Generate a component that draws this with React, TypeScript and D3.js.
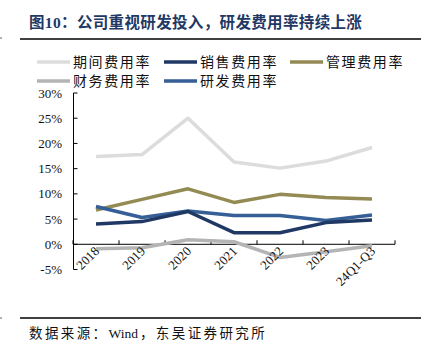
import * as d3 from 'd3';

const years = ['2018', '2019', '2020', '2021', '2022', '2023', '24Q1-Q3'];
const periodRate = [17.4, 17.8, 25.0, 16.3, 15.1, 16.5, 19.2];
const salesRate = [4.0, 4.5, 6.5, 2.3, 2.3, 4.3, 4.8];
const adminRate = [6.8, 8.9, 11.0, 8.3, 9.9, 9.3, 9.0];
const financeRate = [-0.9, -0.7, 0.9, 0.5, -2.6, -1.5, -0.3];
const rdRate = [7.5, 5.3, 6.6, 5.7, 5.7, 4.7, 5.8];
const yTicks = [-5, 0, 5, 10, 15, 20, 25, 30];

const series = [
  { name: '期间费用率', values: periodRate, color: '#dcdcdc' },
  { name: '销售费用率', values: salesRate, color: '#1f3864' },
  { name: '管理费用率', values: adminRate, color: '#948a54' },
  { name: '财务费用率', values: financeRate, color: '#b4b4b4' },
  { name: '研发费用率', values: rdRate, color: '#355f96' },
];

const cjk = '"Liberation Serif", "Noto Sans CJK SC", serif';

export default function App() {
  const x = d3.scaleBand().domain(years).range([73, 395]);
  const y = d3.scaleLinear().domain([-5, 30]).range([269.5, 93]);
  const line = d3
    .line<number>()
    .x((_, i) => x(years[i])! + x.bandwidth() / 2)
    .y((d) => y(d));

  // legend positions: two rows
  const legendPos = [
    [37, 62], [164, 62], [290, 62],
    [37, 81], [164, 81],
  ];
  const drawOrder = [0, 3, 2, 4, 1];

  return (
    <svg width={431} height={358} style={{ position: 'absolute', left: 0, top: 0 }}>
      <rect width={431} height={358} fill="#fff" />
      <text x={29} y={28} fontSize={15.5} letterSpacing={0.35} fontWeight="bold" fill="#1f3864" fontFamily={cjk}>
        图10：公司重视研发投入，研发费用率持续上涨
      </text>
      <line x1={20} x2={421} y1={39} y2={39} stroke="#000" strokeWidth={1.5} />
      <line x1={0} x2={2} y1={38} y2={38} stroke="#666" strokeWidth={1} />

      {series.map((s, i) => (
        <g key={s.name}>
          <line
            x1={legendPos[i][0]}
            x2={legendPos[i][0] + 33}
            y1={legendPos[i][1]}
            y2={legendPos[i][1]}
            stroke={s.color}
            strokeWidth={3.5}
          />
          <text
            x={legendPos[i][0] + 36}
            y={legendPos[i][1] + 5}
            fontSize={14}
            letterSpacing={1.6}
            fontFamily={cjk}
            fill="#111"
          >
            {s.name}
          </text>
        </g>
      ))}

      {/* y axis */}
      <line x1={73.5} x2={73.5} y1={y(30)} y2={y(-5)} stroke="#000" />
      {yTicks.map((t) => (
        <g key={t}>
          <line x1={73.5} x2={77.5} y1={y(t)} y2={y(t)} stroke="#000" />
          <text
            x={62}
            y={y(t) + 4.5}
            textAnchor="end"
            fontSize={13}
            fontFamily='"Liberation Serif", serif'
            fill="#111"
          >
            {t}%
          </text>
        </g>
      ))}

      {/* x axis at zero */}
      <line x1={73} x2={395} y1={y(0)} y2={y(0)} stroke="#000" />
      {years.map((yr) => (
        <line key={'t' + yr} x1={x(yr)!} x2={x(yr)!} y1={y(0)} y2={y(0) - 4} stroke="#000" />
      ))}
      <line x1={395} x2={395} y1={y(0)} y2={y(0) - 4} stroke="#000" />

      {drawOrder.map((i) => (
        <path
          key={series[i].name}
          d={line(series[i].values)!}
          fill="none"
          stroke={series[i].color}
          strokeWidth={3.5}
          strokeLinejoin="round"
        />
      ))}

      {years.map((yr) => {
        const cx = x(yr)! + x.bandwidth() / 2 + 4;
        return (
          <text
            key={yr}
            transform={`translate(${cx},${252}) rotate(-45)`}
            textAnchor="end"
            fontSize={13}
            fontFamily='"Liberation Serif", serif'
            fill="#111"
          >
            {yr}
          </text>
        );
      })}

      <line x1={20} x2={421} y1={318} y2={318} stroke="#000" strokeWidth={1.5} />
      <line x1={0} x2={2} y1={318} y2={318} stroke="#666" strokeWidth={1} />
      <text x={29} y={338} fontSize={13.5} fontFamily={cjk} fill="#111">
        <tspan letterSpacing={2.4}>数据来源：</tspan>
        <tspan letterSpacing={0}>Wind</tspan>
        <tspan letterSpacing={2.4} dx={2}>，东吴证券研究所</tspan>
      </text>
    </svg>
  );
}
